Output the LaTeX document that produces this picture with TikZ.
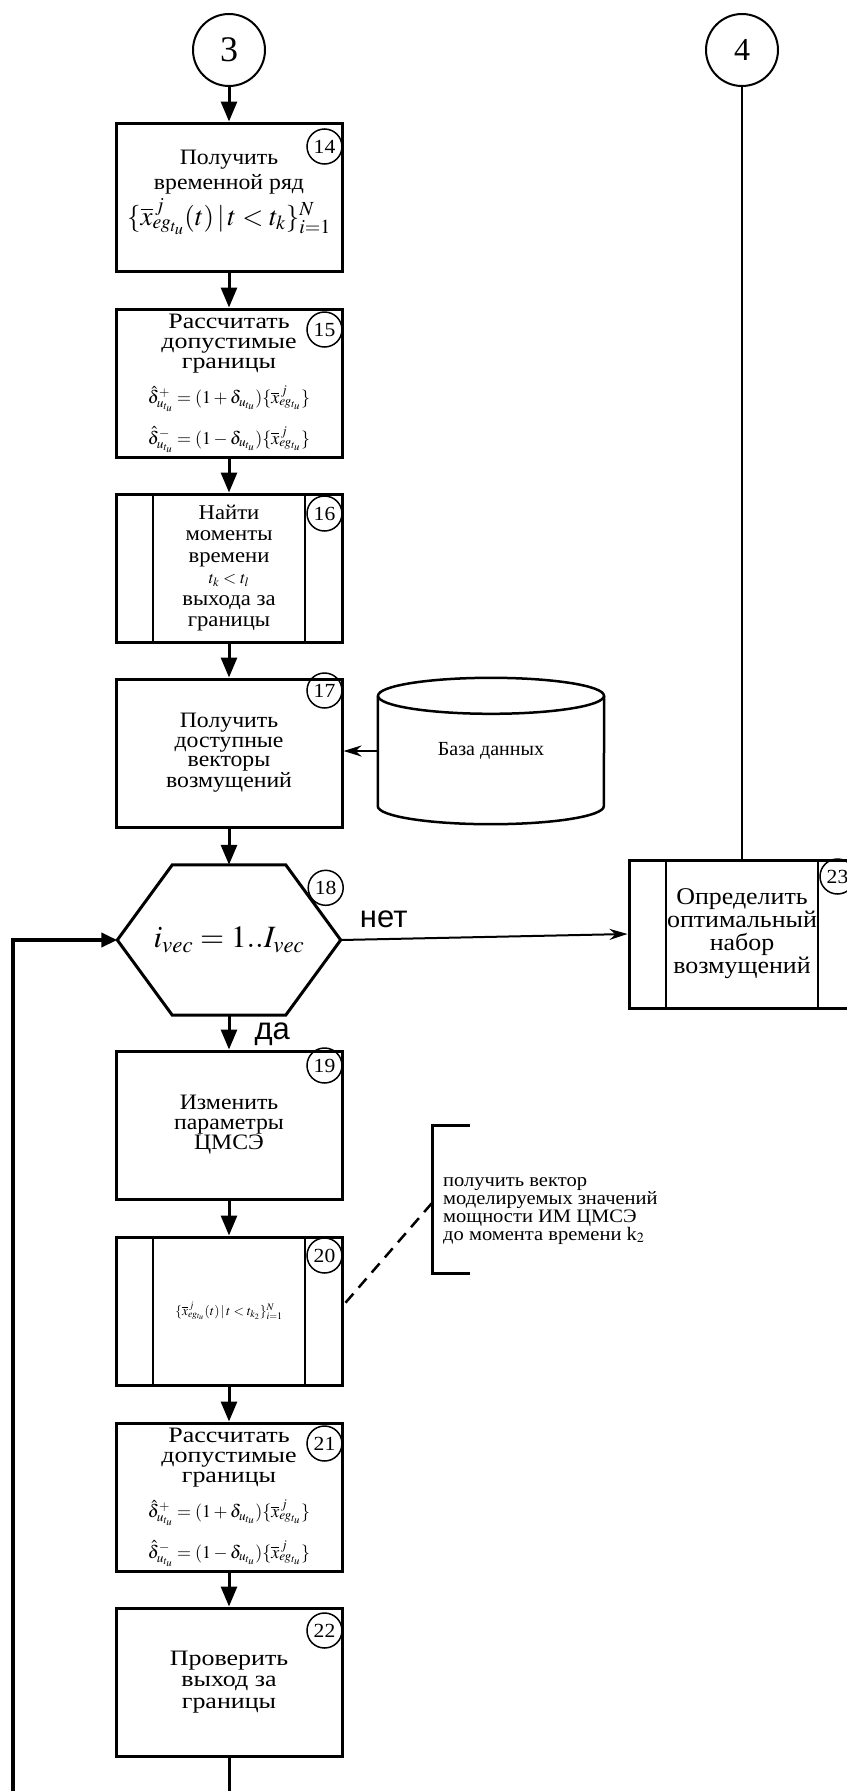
\documentclass[tikz,border=0pt]{standalone}
\usepackage{mathptmx}
\usepackage{fontspec}
\setmainfont{Liberation Serif}
\newfontfamily\boxfont[FakeStretch=1.08]{Liberation Serif}
\newfontfamily\widefont[FakeStretch=1.18]{Liberation Serif}
\newfontfamily\yesnofont{Liberation Sans}
\usetikzlibrary{arrows.meta,calc}
\newcommand\fml[2]{{\fontsize{#1}{#1}\selectfont$#2$}}
\newcommand\xseries{\overline{x}^{\,j}_{eg_{t_u}}}

\tikzset{
  block/.style = {draw, line width=3pt, minimum width=226pt, minimum height=148pt,
                  align=center, inner sep=2pt, font=\boxfont\fontsize{22}{20}\selectfont},
  subblock/.style = {block, path picture={
      \draw[line width=2pt] ([xshift=37pt]path picture bounding box.north west)
                         -- ([xshift=37pt]path picture bounding box.south west);
      \draw[line width=2pt] ([xshift=-37pt]path picture bounding box.north east)
                         -- ([xshift=-37pt]path picture bounding box.south east);}},
  conn/.style = {draw, circle, line width=2pt, minimum size=72pt, inner sep=0pt,
                 font=\fontsize{36}{36}\selectfont},
  numc/.style = {draw, circle, line width=1.5pt, minimum size=35pt, inner sep=0pt,
                 font=\boxfont\fontsize{20}{20}\selectfont},
  flow/.style = {line width=3pt, -{Triangle[length=20pt,width=16pt]}},
  side/.style = {line width=2.5pt, -{Stealth[length=18pt,width=11pt]}},
  yesno/.style = {font=\yesnofont\fontsize{31}{31}\selectfont, inner sep=0pt}
}

\begin{document}
\begin{tikzpicture}[x=1pt, y=-1pt]
  \useasboundingbox (0,0) rectangle (846,1791);

  \node[conn] (c3) at (229,50) {3};
  \node[conn, font=\fontsize{32}{32}\selectfont] (c4) at (742,50) {4};

  \node[block, font=\boxfont\fontsize{22}{25}\selectfont] (b14) at (229,197)
    {Получить\\временной ряд\\[4pt]
     \fml{27}{\{\xseries(t)\,|\,t<t_k\}_{i=1}^{N}}\\[-6pt]\mbox{}};
  \node[block, font=\widefont\fontsize{22}{20}\selectfont] (b15) at (229,383)
    {Рассчитать\\допустимые\\границы\\[12pt]
     \fml{18}{\hat{\delta}^{+}_{u_{t_u}}=(1+\delta_{u_{t_u}})\{\xseries\}}\\[14pt]
     \fml{18}{\hat{\delta}^{-}_{u_{t_u}}=(1-\delta_{u_{t_u}})\{\xseries\}}};
  \node[subblock, font=\boxfont\fontsize{21}{21.5}\selectfont] (b16) at (229,568)
    {Найти\\моменты\\времени\\\fml{17}{t_k<t_l}\\выхода за\\границы};
  \node[block, font=\boxfont\fontsize{22}{19.5}\selectfont] (b17) at (229,753)
    {Получить\\доступные\\векторы\\возмущений};

  % database
  \node[minimum width=226pt, minimum height=110pt, inner sep=0pt,
        font=\fontsize{20}{20}\selectfont] (db) at (491,751) {База данных};
  \draw[line width=2.5pt] (db.north) ellipse[x radius=113pt, y radius=18pt];
  \draw[line width=2.5pt] (db.north west) -- (db.south west)
    arc[start angle=180, end angle=360, x radius=113pt, y radius=18pt] -- (db.north east);

  % decision
  \node[minimum width=223pt, minimum height=150pt, inner sep=0pt,
        font=\fontsize{31}{31}\selectfont] (hx) at (229,940) {$i_{vec}=1..I_{vec}$};
  \draw[line width=3pt, line join=miter] (hx.west) -- ([xshift=55pt]hx.north west)
    -- ([xshift=-55pt]hx.north east) -- (hx.east)
    -- ([xshift=-55pt]hx.south east) -- ([xshift=55pt]hx.south west) -- cycle;

  \node[block, font=\boxfont\fontsize{22}{20}\selectfont] (b19) at (229,1125)
    {Изменить\\параметры\\ЦМСЭ};
  \node[subblock] (b20) at (229,1311)
    {\fml{13.5}{\{\xseries(t)\,|\,t<t_{k_2}\}_{i=1}^{N}}};
  \node[block, font=\widefont\fontsize{22}{20}\selectfont] (b21) at (229,1497)
    {Рассчитать\\допустимые\\границы\\[12pt]
     \fml{18}{\hat{\delta}^{+}_{u_{t_u}}=(1+\delta_{u_{t_u}})\{\xseries\}}\\[14pt]
     \fml{18}{\hat{\delta}^{-}_{u_{t_u}}=(1-\delta_{u_{t_u}})\{\xseries\}}};
  \node[block, font=\widefont\fontsize{22}{21.5}\selectfont] (b22) at (229,1682)
    {Проверить\\выход за\\границы};
  \node[subblock, font=\boxfont\fontsize{24}{23}\selectfont] (b23) at (742,934)
    {Определить\\оптимальный\\набор\\возмущений};

  % step numbers
  \foreach \b/\n/\dy in {b14/14/25, b15/15/22, b16/16/21, b17/17/13,
                         b19/19/16, b20/20/20, b21/21/22, b22/22/24, b23/23/18}
    \node[numc] (n\n) at ($(\b.north east)+(-19,\dy)$) {\n};
  \node[numc] (n18) at ($(hx.north east)+(-15,23)$) {18};

  % note
  \node[anchor=west, align=left, inner sep=0pt,
        font=\boxfont\fontsize{19}{17.7}\selectfont] (nt) at (443,1211)
    {получить вектор\\моделируемых значений\\мощности ИМ ЦМСЭ\\до момента времени k$_2$};
  \coordinate (brt) at (432,1125);
  \coordinate (brb) at (432,1273);
  \coordinate (brm) at (432,1203);
  \draw[line width=3pt] ($(brt)+(38,0)$) -- (brt) -- (brb) -- ($(brb)+(38,0)$);
  \draw[line width=2.5pt, dash pattern=on 12pt off 8pt] (brm) -- ($(b20.east)+(0,-6)$);

  % connectors
  \draw[flow] (c3) -- (b14);
  \draw[flow] (b14) -- (b15);
  \draw[flow] (b15) -- (b16);
  \draw[flow] (b16) -- (b17);
  \draw[flow] (b17) -- (hx.north);
  \draw[flow] (hx.south) -- node[yesno, pos=0.55, right=24pt] (yes) {да} (b19);
  \draw[flow] (b19) -- (b20);
  \draw[flow] (b20) -- (b21);
  \draw[flow] (b21) -- (b22);
  \draw[side] (db.west) -- (db.west -| b17.east);
  \draw[side, line width=2pt] (hx.east) -- node[yesno, pos=0.15, above=10pt] (no) {нет} (b23.west);
  \draw[line width=2.5pt] (c4) -- (b23);

  \coordinate (bend) at (229,1791);
  \coordinate (lb) at (13,1791);
  \draw[line width=3pt] (b22) -- (bend);
  \draw[line width=4pt, -{Triangle[length=16pt,width=14pt]}] (lb) |- (hx.west);
\end{tikzpicture}
\end{document}
